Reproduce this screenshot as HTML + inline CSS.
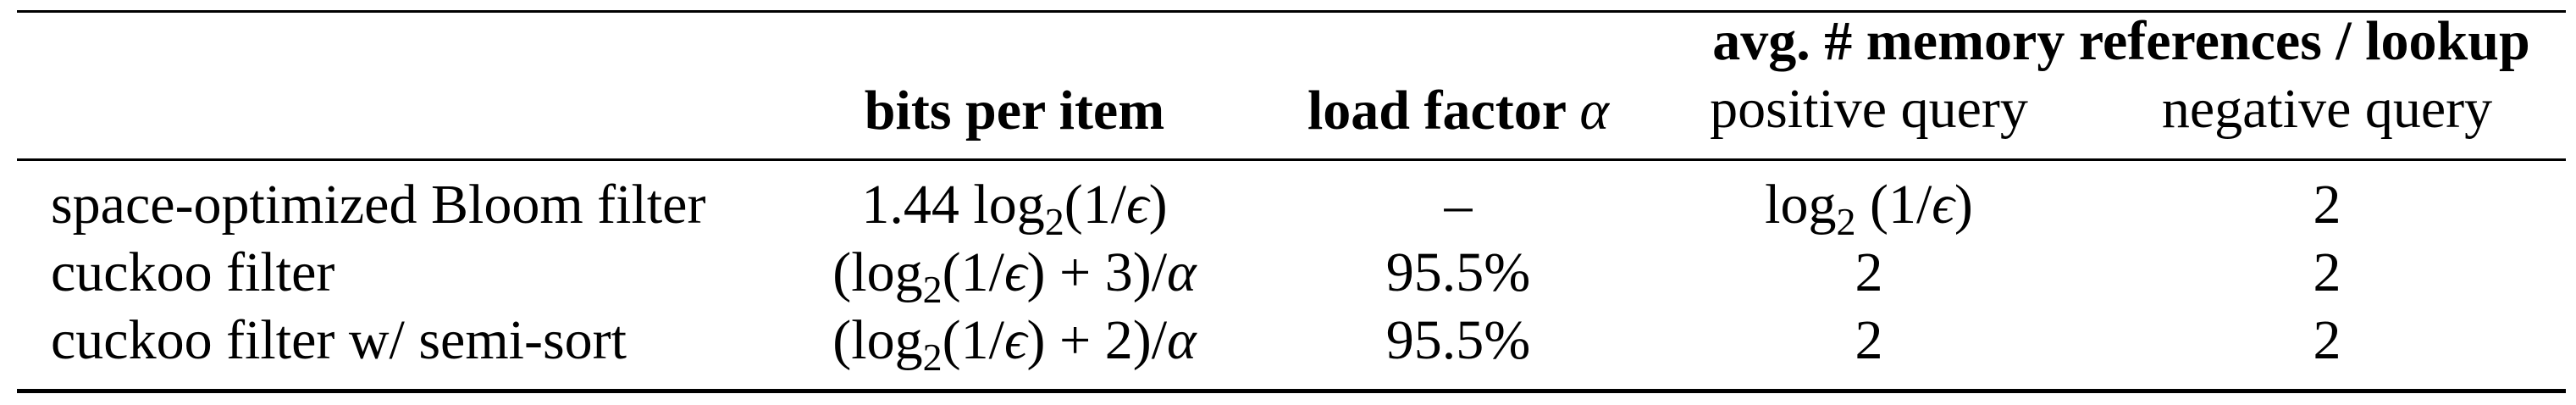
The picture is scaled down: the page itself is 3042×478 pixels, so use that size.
<!DOCTYPE html>
<html><head><meta charset="utf-8"><style>
html,body{margin:0;padding:0;background:#fff;}
svg{display:block;}
text{font-family:"Liberation Serif","Times New Roman",serif;font-size:66px;fill:#000;}
.b{font-weight:bold;}
.i{font-style:italic;}
</style></head><body>
<svg width="3042" height="478" viewBox="0 0 3042 478" xmlns="http://www.w3.org/2000/svg">
<rect x="20" y="12" width="3010" height="3" fill="#000"/>
<rect x="20" y="187" width="3010" height="3" fill="#000"/>
<rect x="20" y="459" width="3010" height="5" fill="#000"/>

<text class="b" x="2505" y="70" text-anchor="middle">avg. # memory references / lookup</text>
<text class="b" x="1198" y="152" text-anchor="middle">bits per item</text>
<text x="1722" y="152" text-anchor="middle"><tspan class="b">load factor </tspan><tspan class="i">α</tspan></text>
<text x="2207" y="150" text-anchor="middle">positive query</text>
<text x="2748" y="150" text-anchor="middle">negative query</text>

<text x="60" y="263">space-optimized Bloom filter</text>
<text x="60" y="343">cuckoo filter</text>
<text x="60" y="423">cuckoo filter w/ semi-sort</text>

<text x="1198" y="263" text-anchor="middle">1.44 log<tspan font-size="46" dy="14">2</tspan><tspan dy="-14">(1/</tspan><tspan class="i">ϵ</tspan>)</text>
<text x="1198" y="343" text-anchor="middle">(log<tspan font-size="46" dy="14">2</tspan><tspan dy="-14">(1/</tspan><tspan class="i">ϵ</tspan>) + 3)/<tspan class="i">α</tspan></text>
<text x="1198" y="423" text-anchor="middle">(log<tspan font-size="46" dy="14">2</tspan><tspan dy="-14">(1/</tspan><tspan class="i">ϵ</tspan>) + 2)/<tspan class="i">α</tspan></text>

<text x="1722" y="263" text-anchor="middle">–</text>
<text x="1722" y="343" text-anchor="middle">95.5%</text>
<text x="1722" y="423" text-anchor="middle">95.5%</text>

<text x="2207" y="263" text-anchor="middle">log<tspan font-size="46" dy="14">2</tspan><tspan dy="-14"> (1/</tspan><tspan class="i">ϵ</tspan>)</text>
<text x="2207" y="343" text-anchor="middle">2</text>
<text x="2207" y="423" text-anchor="middle">2</text>

<text x="2748" y="263" text-anchor="middle">2</text>
<text x="2748" y="343" text-anchor="middle">2</text>
<text x="2748" y="423" text-anchor="middle">2</text>
</svg>
</body></html>
